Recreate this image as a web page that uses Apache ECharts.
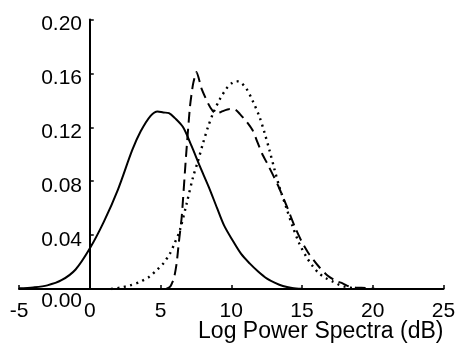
<!DOCTYPE html>
<html>
<head>
<meta charset="utf-8">
<script src="https://cdn.jsdelivr.net/npm/echarts@6/dist/echarts.min.js"></script>
<style>html,body{margin:0;padding:0;background:#fff;}#c{width:457px;height:344px;}</style>
</head>
<body>
<div id="c"></div>
<script>
var xTicks = [-5, 0, 5, 10, 15, 20, 25];
var yTicks = [0, 0.04, 0.08, 0.12, 0.16, 0.20];
var xName = 'Log Power Spectra (dB)';

var solidX = [-5, -4, -3, -2, -1, 0, 1, 2, 3, 3.6, 4.3, 4.8, 5.2, 5.6, 6.0, 6.6, 7.2, 7.8, 8.4, 9.0, 9.5, 10.1, 10.7, 11.3, 11.9, 12.5, 13.1, 13.65, 14.3, 15.0];
var solidY = [0.0005, 0.0012, 0.0027, 0.0065, 0.0145, 0.030, 0.050, 0.074, 0.103, 0.117, 0.1285, 0.1318, 0.131, 0.1305, 0.127, 0.120, 0.106, 0.0906, 0.076, 0.060, 0.047, 0.036, 0.026, 0.019, 0.013, 0.0079, 0.0045, 0.0022, 0.0008, 0.0001];

var dashX = [5.4, 5.7, 5.95, 6.14, 6.3, 6.5, 6.8, 7.08, 7.3, 7.55, 7.9, 8.37, 8.7, 8.96, 9.4, 9.9, 10.3, 10.6, 11.1, 11.5, 11.85, 12.2, 12.6, 13.3, 13.9, 14.5, 14.94, 15.5, 16.2, 16.8, 17.4, 17.87, 18.3, 18.8, 19.5, 20.2];
var dashY = [0, 0.002, 0.008, 0.019, 0.035, 0.0536, 0.098, 0.135, 0.152, 0.161, 0.1487, 0.1376, 0.132, 0.130, 0.132, 0.1335, 0.133, 0.130, 0.124, 0.118, 0.109, 0.100, 0.092, 0.077, 0.062, 0.046, 0.036, 0.026, 0.0165, 0.010, 0.006, 0.0042, 0.002, 0.001, 0.0008, 0];

var dotX = [1.5, 2.15, 2.85, 3.56, 4.2, 4.73, 5.2, 5.67, 6.0, 6.37, 6.85, 7.3, 7.65, 8.0, 8.35, 8.7, 9.2, 9.66, 10.0, 10.37, 10.7, 11.07, 11.5, 12.0, 12.35, 12.7, 13.05, 13.4, 13.9, 14.35, 14.8, 15.3, 15.75, 16.2, 16.7, 17.2, 17.65, 18.1, 18.7, 19.2];
var dotY = [0, 0.001, 0.0027, 0.0054, 0.009, 0.014, 0.019, 0.0264, 0.034, 0.0437, 0.0635, 0.083, 0.095, 0.108, 0.120, 0.130, 0.141, 0.1487, 0.1525, 0.1543, 0.153, 0.1487, 0.140, 0.1276, 0.116, 0.103, 0.089, 0.0758, 0.060, 0.046, 0.034, 0.024, 0.017, 0.0116, 0.008, 0.0054, 0.003, 0.0015, 0.0005, 0];

function pairs(xs, ys) { return xs.map(function (x, i) { return [x, ys[i]]; }); }

var FONT = 'Liberation Sans';
var chart = echarts.init(document.getElementById('c'), null, { renderer: 'canvas' });
chart.setOption({
  animation: false,
  backgroundColor: '#ffffff',
  grid: { left: 19, right: 13.5, top: 19.5, bottom: 55, containLabel: false, outerBoundsMode: 'none' },
  xAxis: {
    type: 'value', min: xTicks[0], max: xTicks[xTicks.length - 1], interval: 5,
    name: xName, nameLocation: 'end', nameGap: 0, nameMoveOverlap: false,
    nameTextStyle: { fontFamily: FONT, fontSize: 23, color: '#000', align: 'right', verticalAlign: 'top', padding: [31, 0, 0, 0] },
    axisLine: { onZero: false, lineStyle: { color: '#000', width: 2 } },
    axisTick: { inside: true, length: 4, lineStyle: { color: '#000', width: 1.5 } },
    axisLabel: { fontFamily: FONT, fontSize: 21, color: '#000', margin: 12, formatter: function (v) { return String(v); } },
    splitLine: { show: false }
  },
  yAxis: {
    type: 'value', min: yTicks[0], max: yTicks[yTicks.length - 1], interval: 0.04,
    axisLine: { onZero: true, lineStyle: { color: '#000', width: 2 } },
    axisTick: { inside: true, length: 4, lineStyle: { color: '#000', width: 1.5 } },
    axisLabel: {
      fontFamily: FONT, fontSize: 21, color: '#000', margin: -63,
      formatter: function (v) { return v === 0 ? '{z|0.00}' : '{n|' + v.toFixed(2) + '}'; },
      rich: {
        n: { fontFamily: FONT, fontSize: 21, color: '#000', padding: [10, 0, 0, 0] },
        z: { fontFamily: FONT, fontSize: 21, color: '#000', padding: [24, 0, 0, 0] }
      }
    },
    splitLine: { show: false }
  },
  series: [
    { type: 'line', data: pairs(solidX, solidY), showSymbol: false, smooth: 0.3, lineStyle: { color: '#000', width: 2, type: 'solid' } },
    { type: 'line', data: pairs(dashX, dashY), showSymbol: false, smooth: 0.2, lineStyle: { color: '#000', width: 2, type: [11, 6] } },
    { type: 'line', data: pairs(dotX, dotY), showSymbol: false, smooth: 0.3, lineStyle: { color: '#000', width: 2.4, type: [2, 4.5] } }
  ]
});
</script>
</body>
</html>
